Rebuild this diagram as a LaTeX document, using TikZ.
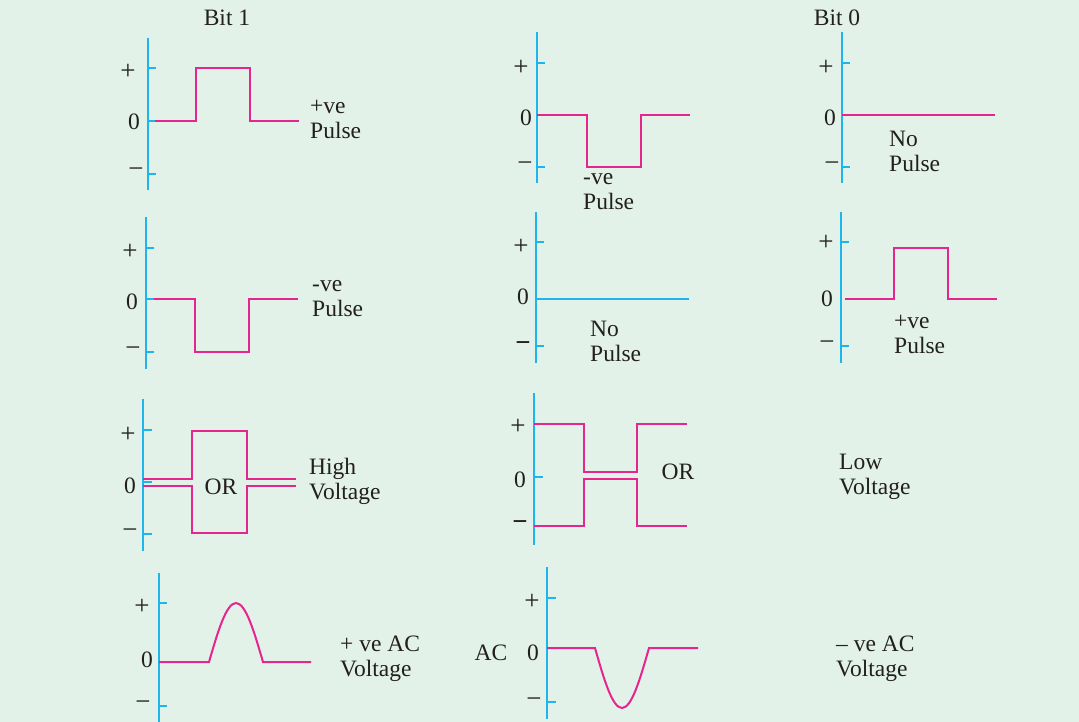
\documentclass[tikz,border=0pt]{standalone}
\usepackage{fontspec}
\setmainfont{Liberation Serif}
\usetikzlibrary{positioning}
\definecolor{bgcol}{HTML}{E2F2E8}
\definecolor{axiscol}{HTML}{1EB4EC}
\definecolor{wavecol}{HTML}{E6258F}
\definecolor{txtcol}{HTML}{231F20}

\begin{document}
\begin{tikzpicture}[x=1pt, y=-1pt,
    axisline/.style={draw=axiscol, line width=2pt},
    wave/.style={draw=wavecol, line width=2pt, line join=miter},
    lbl/.style={text=txtcol, font=\fontsize{23.5}{25}\selectfont, inner sep=0pt},
    sign/.style={lbl, font=\fontsize{27}{27}\selectfont},
    tag/.style={lbl, align=left, anchor=west}
]

\fill[bgcol] (0,0) rectangle (1079,722);
\useasboundingbox (0,0) rectangle (1079,722);

% column heads
\node [lbl] (bitone) at (227,18) {Bit 1};
\node [lbl] (bitzero) at (837,18) {Bit 0};

% row 1, bit 1: +ve pulse
\draw [axisline] (148,38) -- (148,190);
\foreach \ty in {68,121,174} \draw [axisline] (148,\ty) -- (156,\ty);
\draw [wave] (155,121) -- (196,121) -- (196,68) -- (250,68) -- (250,121) -- (299,121);
\node [sign] (aplus) at (128,72) {+};
\node [lbl] (azero) at (134,122) {0};
\node [sign] (aminus) at (136,173) {−};
\node [tag] (atag) at (310,119) {+ve\\Pulse};

% row 1, bit 0: -ve pulse
\draw [axisline] (537,32) -- (537,183);
\foreach \ty in {63,115,167} \draw [axisline] (537,\ty) -- (545,\ty);
\draw [wave] (537,115) -- (587,115) -- (587,167) -- (641,167) -- (641,115) -- (690,115);
\node [sign] (bplus) at (521,68) {+};
\node [lbl] (bzero) at (526,118) {0};
\node [sign] (bminus) at (525,167) {−};
\node [tag] (btag) at (583,192) {-ve\\Pulse};

% row 1, bit 0: no pulse
\draw [axisline] (842,32) -- (842,183);
\foreach \ty in {63,115,167} \draw [axisline] (842,\ty) -- (850,\ty);
\draw [wave] (842,115) -- (995,115);
\node [sign] (cplus) at (826,68) {+};
\node [lbl] (czero) at (830,118) {0};
\node [sign] (cminus) at (832,167) {−};
\node [tag] (ctag) at (889,151) {No\\Pulse};

% row 2, bit 1: -ve pulse
\draw [axisline] (146,217) -- (146,369);
\foreach \ty in {248,299,352} \draw [axisline] (146,\ty) -- (154,\ty);
\draw [wave] (154,299) -- (195,299) -- (195,352) -- (249,352) -- (249,299) -- (298,299);
\node [sign] (dplus) at (130,252) {+};
\node [lbl] (dzero) at (132,302) {0};
\node [sign] (dminus) at (133,352) {−};
\node [tag] (dtag) at (312,299) {-ve\\Pulse};

% row 2, bit 0: no pulse
\draw [axisline] (536,212) -- (536,363);
\foreach \ty in {242,346} \draw [axisline] (536,\ty) -- (544,\ty);
\draw [axisline] (536,299) -- (689,299);
\node [sign] (eplus) at (521,247) {+};
\node [lbl] (ezero) at (523,297) {0};
\node [sign] (eminus) at (523,347) {\textbf{−}};
\node [tag] (etag) at (590,341) {No\\Pulse};

% row 2, bit 0: +ve pulse
\draw [axisline] (841,212) -- (841,363);
\foreach \ty in {242,346} \draw [axisline] (841,\ty) -- (849,\ty);
\draw [wave] (845,299) -- (894,299) -- (894,248) -- (948,248) -- (948,299) -- (997,299);
\node [sign] (fplus) at (826,243) {+};
\node [lbl] (fzero) at (827,299) {0};
\node [sign] (fminus) at (827,346) {−};
\node [tag] (ftag) at (894,334) {+ve\\Pulse};

% row 3, bit 1: high voltage
\draw [axisline] (143,399) -- (143,551);
\foreach \ty in {430,482,534} \draw [axisline] (143,\ty) -- (152,\ty);
\draw [wave] (143,479) -- (192,479) -- (192,431) -- (247,431) -- (247,479) -- (296,479);
\draw [wave] (143,486) -- (192,486) -- (192,533) -- (247,533) -- (247,486) -- (296,486);
\node [lbl] (gor) at (221,487) {OR};
\node [sign] (gplus) at (128,435) {+};
\node [lbl] (gzero) at (130,486) {0};
\node [sign] (gminus) at (130,534) {−};
\node [tag] (gtag) at (309,481) {High\\Voltage};

% row 3, bit 0: high voltage
\draw [axisline] (534,393) -- (534,545);
\draw [axisline] (534,477) -- (543,477);
\draw [wave] (534,424) -- (584,424) -- (584,472) -- (637,472) -- (637,424) -- (687,424);
\draw [wave] (534,526) -- (584,526) -- (584,479) -- (637,479) -- (637,526) -- (687,526);
\node [lbl] (hor) at (678,472) {OR};
\node [sign] (hplus) at (518,427) {+};
\node [lbl] (hzero) at (520,480) {0};
\node [sign] (hminus) at (520,526) {\textbf{−}};
\node [tag] (itag) at (839,477) {Low\\Voltage};

% row 4, bit 1: +ve AC
\draw [axisline] (159,573) -- (159,722);
\foreach \ty in {603,706} \draw [axisline] (159,\ty) -- (167,\ty);
\draw [wave] (159,662) -- (209,662) sin (236,603) cos (263,662) -- (311,662);
\node [sign] (jplus) at (142,607) {+};
\node [lbl] (jzero) at (147,660) {0};
\node [sign] (jminus) at (143,706) {−};
\node [tag] (jtag) at (340,659) {+ ve AC\\Voltage};

% row 4, bit 0: -ve AC
\draw [axisline] (547,567) -- (547,719);
\foreach \ty in {598,702} \draw [axisline] (547,\ty) -- (556,\ty);
\draw [wave] (547,648) -- (595,648) sin (622,708) cos (649,648) -- (698,648);
\node [lbl] (kac) at (491,653) {AC};
\node [sign] (kplus) at (532,602) {+};
\node [lbl] (kzero) at (533,653) {0};
\node [sign] (kminus) at (534,703) {−};
\node [tag] (ltag) at (836,659) {– ve AC\\Voltage};

\end{tikzpicture}
\end{document}
